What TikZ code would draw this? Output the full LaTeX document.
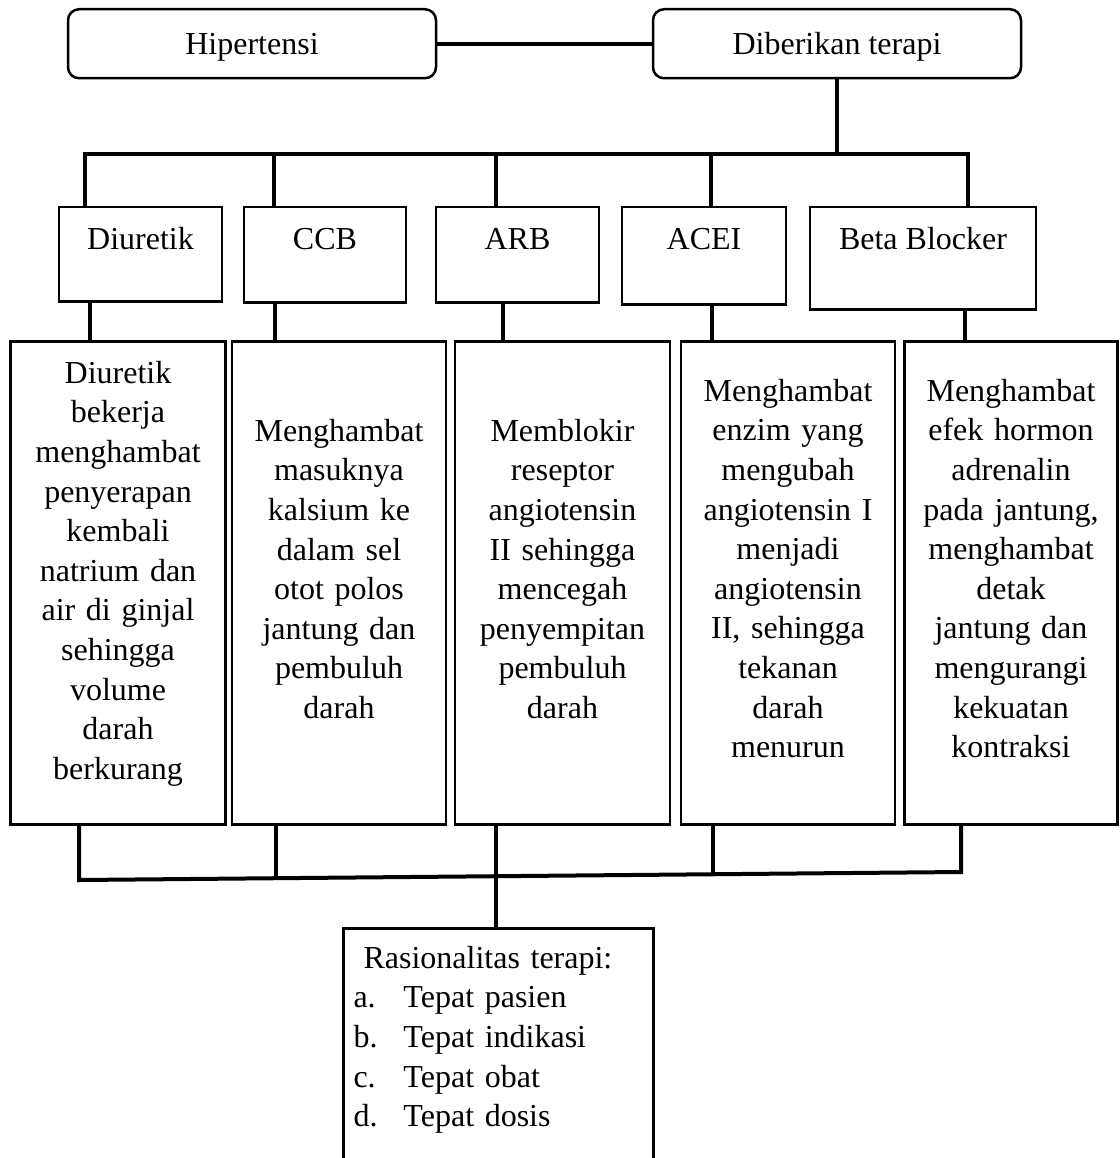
\documentclass[tikz,border=0pt]{standalone}
\usepackage{fontspec}
\setmainfont{Liberation Serif}
\usetikzlibrary{positioning}

\tikzset{
  box/.style={draw, line width=2.5pt, inner sep=0pt},
  mainbox/.style={box, rounded corners=11pt, minimum width=368pt, text height=45pt, text depth=24pt},
  drugbox/.style={box, anchor=north, text height=42pt},
  infobox/.style={box, anchor=north, inner xsep=4pt, align=center},
  link/.style={line width=4pt},
}

\begin{document}
\begin{tikzpicture}[x=1pt, y=-1pt, font=\fontsize{32}{39.6}\selectfont]
  \useasboundingbox (0,0) rectangle (1119,1158);
  \clip (0,0) rectangle (1119,1158);

  \node[mainbox, anchor=north] (hip)    at (252,8) {Hipertensi};
  \node[mainbox, anchor=north] (terapi) at (837,8) {Diberikan terapi};

  % golongan obat
  \node[drugbox, minimum width=163pt, text depth=52pt] (diu)  at (140.5,206) {Diuretik};
  \node[drugbox, minimum width=162pt, text depth=53pt] (ccb)  at (325,206)   {CCB};
  \node[drugbox, minimum width=163pt, text depth=53pt] (arb)  at (517.5,206) {ARB};
  \node[drugbox, minimum width=164pt, text depth=55pt] (acei) at (704,206)   {ACEI};
  \node[drugbox, minimum width=226pt, text depth=60pt] (beta) at (923,206)   {Beta Blocker};

  % mekanisme kerja
  \node[infobox, text width=207pt, text height=42pt, text depth=441pt] (d1) at (118,340)
    {Diuretik\\ bekerja\\ menghambat\\ penyerapan\\ kembali\\ natrium dan\\ air di ginjal\\ sehingga\\ volume\\ darah\\ berkurang};
  \node[infobox, text width=206pt, text height=100pt, text depth=383pt] (d2) at (339,340)
    {Menghambat\\ masuknya\\ kalsium ke\\ dalam sel\\ otot polos\\ jantung dan\\ pembuluh\\ darah};
  \node[infobox, text width=207pt, text height=100pt, text depth=383pt] (d3) at (562.5,340)
    {Memblokir\\ reseptor\\ angiotensin\\ II sehingga\\ mencegah\\ penyempitan\\ pembuluh\\ darah};
  \node[infobox, text width=206pt, text height=60pt, text depth=423pt] (d4) at (788,340)
    {Menghambat\\ enzim yang\\ mengubah\\ angiotensin I\\ menjadi\\ angiotensin\\ II, sehingga\\ tekanan\\ darah\\ menurun};
  \node[infobox, text width=205pt, text height=60pt, text depth=423pt] (d5) at (1011,340)
    {Menghambat\\ efek hormon\\ adrenalin\\ pada jantung,\\ menghambat\\ detak\\ jantung dan\\ mengurangi\\ kekuatan\\ kontraksi};

  \node[box, anchor=north, text width=290pt, inner xsep=10pt, align=left, text height=40pt, text depth=233pt] (rasio) at (498.5,927)
    {\hspace*{10pt}Rasionalitas terapi:\\
     \makebox[50pt][l]{a.}Tepat pasien\\
     \makebox[50pt][l]{b.}Tepat indikasi\\
     \makebox[50pt][l]{c.}Tepat obat\\
     \makebox[50pt][l]{d.}Tepat dosis};

  % titik percabangan
  \coordinate (tb1) at (85,154);
  \coordinate (tb2) at (274,154);
  \coordinate (tb3) at (496,154);
  \coordinate (tb4) at (711,154);
  \coordinate (tb5) at (968,154);
  \coordinate (m1) at (90,320);
  \coordinate (m2) at (275,320);
  \coordinate (m3) at (503,320);
  \coordinate (m4) at (712,320);
  \coordinate (m5) at (965,320);
  \coordinate (bb1) at (79,880);
  \coordinate (bb2) at (276,878.2);
  \coordinate (bb3) at (496,876.2);
  \coordinate (bb4) at (713,874.2);
  \coordinate (bb5) at (961,872);

  \draw[link] (hip) -- (terapi);
  \draw[link] (terapi.south) -- (terapi.south |- tb5);
  \draw[link] (tb1 |- diu.north) -- (tb1) -- (tb5) -- (tb5 |- beta.north);
  \draw[link] (tb2) -- (tb2 |- ccb.north);
  \draw[link] (tb3) -- (tb3 |- arb.north);
  \draw[link] (tb4) -- (tb4 |- acei.north);

  \draw[link] (m1 |- diu.south)  -- (m1 |- d1.north);
  \draw[link] (m2 |- ccb.south)  -- (m2 |- d2.north);
  \draw[link] (m3 |- arb.south)  -- (m3 |- d3.north);
  \draw[link] (m4 |- acei.south) -- (m4 |- d4.north);
  \draw[link] (m5 |- beta.south) -- (m5 |- d5.north);

  \draw[link] (bb1 |- d1.south) -- (bb1) -- (bb5) -- (bb5 |- d5.south);
  \draw[link] (bb2 |- d2.south) -- (bb2);
  \draw[link] (bb3 |- d3.south) -- (bb3);
  \draw[link] (bb4 |- d4.south) -- (bb4);
  \draw[link] (bb3) -- (bb3 |- rasio.north);
\end{tikzpicture}
\end{document}
